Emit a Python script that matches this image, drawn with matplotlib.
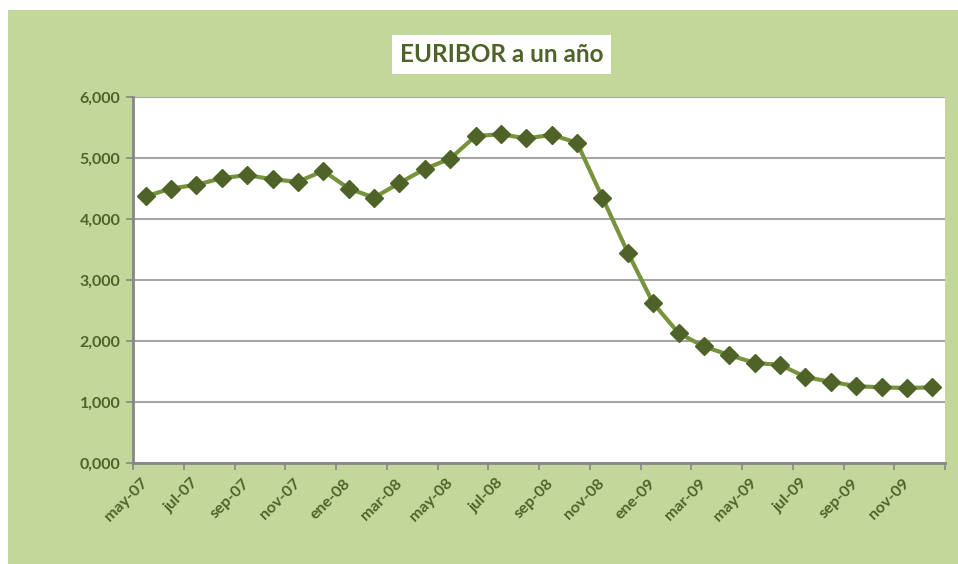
"""
EURIBOR a un año -- monthly 12-month EURIBOR, may-07 .. dic-09.
"""
import matplotlib
matplotlib.use("Agg")
import matplotlib.pyplot as plt
from matplotlib.patches import Rectangle
from matplotlib.ticker import FixedLocator, FuncFormatter

# monthly values (percent), May 2007 .. Dec 2009
months = ["may-07", "jun-07", "jul-07", "ago-07", "sep-07", "oct-07", "nov-07", "dic-07",
          "ene-08", "feb-08", "mar-08", "abr-08", "may-08", "jun-08", "jul-08", "ago-08",
          "sep-08", "oct-08", "nov-08", "dic-08", "ene-09", "feb-09", "mar-09", "abr-09",
          "may-09", "jun-09", "jul-09", "ago-09", "sep-09", "oct-09", "nov-09", "dic-09"]
euribor = [4.37, 4.50, 4.56, 4.67, 4.72, 4.65, 4.61, 4.79,
           4.50, 4.35, 4.59, 4.82, 4.99, 5.36, 5.39, 5.32,
           5.38, 5.25, 4.35, 3.45, 2.62, 2.13, 1.91, 1.77,
           1.64, 1.61, 1.41, 1.33, 1.26, 1.24, 1.23, 1.24]
y_ticks = [0, 1, 2, 3, 4, 5, 6]

BG = "#C4D79B"
TXT = "#4F6228"
LINE = "#77933C"
MARK = "#4F6228"
AXIS = "#868686"
GRID = "#A6A6A6"

plt.rcParams["font.family"] = ["Lato", "DejaVu Sans"]

W, H = 958, 564
fig = plt.figure(figsize=(W / 100, H / 100), dpi=100, facecolor="white")

# green chart area (leaves a thin white margin at top/left)
fig.patches.append(Rectangle((8 / W, 0), 1 - 8 / W, 1 - 10 / H,
                             transform=fig.transFigure, facecolor=BG,
                             edgecolor="none", zorder=-10))

# title box
bx0, bx1, by0, by1 = 392, 611, 35, 74
fig.patches.append(Rectangle((bx0 / W, 1 - by1 / H), (bx1 - bx0) / W, (by1 - by0) / H,
                             transform=fig.transFigure, facecolor="white",
                             edgecolor="none", zorder=-9))
fig.text((bx0 + bx1) / 2 / W, 1 - (by0 + by1) / 2 / H, "EURIBOR a un año",
         ha="center", va="center", fontsize=17.5, fontweight="bold", color=TXT)

left, right, top, bottom = 133, 945, 97, 463
ax = fig.add_axes([left / W, 1 - bottom / H, (right - left) / W, (bottom - top) / H])
ax.set_facecolor("white")

x = list(range(len(months)))
ax.plot(x, euribor, color=LINE, linewidth=3, zorder=3,
        marker="D", markersize=9.5, markerfacecolor=MARK, markeredgecolor=MARK)

ax.set_xlim(-0.5, len(months) - 0.5)
ax.set_ylim(0, 6)

# y axis
ax.yaxis.set_major_locator(FixedLocator(y_ticks))
ax.yaxis.set_major_formatter(FuncFormatter(lambda v, p: f"{v:.3f}".replace(".", ",")))
ax.grid(axis="y", color=GRID, linewidth=1.5, zorder=1)
ax.set_axisbelow(True)

# x axis: tick marks on category boundaries every 2 months, labels on categories
ax.xaxis.set_major_locator(FixedLocator([i - 0.5 for i in range(0, len(months) + 1, 2)]))
ax.xaxis.set_major_formatter(FuncFormatter(lambda v, p: ""))
ax.xaxis.set_minor_locator(FixedLocator(x[::2]))
ax.set_xticklabels(months[::2], minor=True)

ax.tick_params(axis="x", which="major", length=5, width=1.2, color=AXIS, direction="out")
ax.tick_params(axis="x", which="minor", length=0, pad=13)
ax.tick_params(axis="y", length=5, width=1.2, color=AXIS, direction="out", pad=4)

for lab in ax.get_xticklabels(minor=True):
    lab.set_rotation(45)
    lab.set_ha("right")
    lab.set_va("center")
    lab.set_rotation_mode("anchor")
    lab.set_fontsize(11.5)
    lab.set_fontweight("bold")
    lab.set_color(TXT)
for lab in ax.get_yticklabels():
    lab.set_fontsize(11.5)
    lab.set_fontweight("bold")
    lab.set_color(TXT)

for side in ("top", "right"):
    ax.spines[side].set_visible(False)
for side in ("left", "bottom"):
    ax.spines[side].set_color(AXIS)
    ax.spines[side].set_linewidth(2)

fig.savefig("out.png", dpi=100, facecolor=fig.get_facecolor())
